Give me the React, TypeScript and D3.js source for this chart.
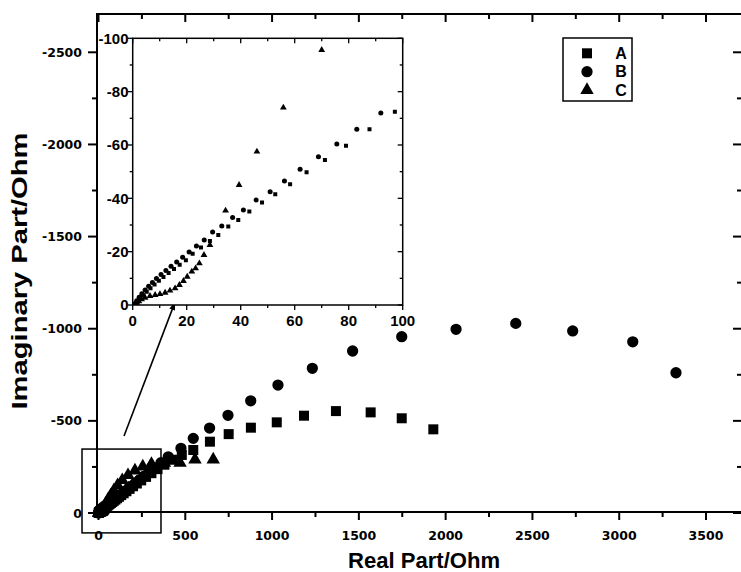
import React from 'react';
import * as d3 from 'd3';

// ---- data (real part, imaginary part) in Ohm ----
const seriesA: [number, number][] = [
  [1.0, -0.3], [1.8, -1.2], [2.8, -2.4], [3.9, -3.7], [5.2, -5.0], [6.6, -6.3], [8.1, -7.7],
  [9.7, -9.1], [11.4, -10.5], [13.3, -12.0], [15.3, -13.5], [17.4, -15.1], [19.7, -16.8],
  [22.2, -19.2], [25.3, -21.6], [28.6, -24], [31.7, -26.25], [35.4, -29.4], [39.1, -31.9],
  [43.2, -35.1], [47.9, -38.4], [52.8, -41.5], [58.3, -45.25], [64.4, -49.75], [71.2, -54.4],
  [79, -59.75], [87.7, -65.9], [97.1, -72.5],
  [107, -80], [118, -88], [131, -97], [145, -107], [161, -118], [179, -131], [199, -145],
  [221, -160], [246, -177], [274, -196], [305, -216], [340, -238], [380, -262], [425, -289],
  [480, -315], [546, -342], [642, -387], [750, -428], [878, -463], [1027, -492], [1184, -528],
  [1368, -553], [1568, -546], [1747, -514], [1929, -454],
];
const seriesB: [number, number][] = [
  [0.8, -0.5], [1.5, -1.6], [2.4, -2.9], [3.4, -4.2], [4.6, -5.6], [5.9, -7.0], [7.3, -8.4],
  [8.8, -9.9], [10.5, -11.4], [12.3, -12.9], [14.2, -14.5], [16.3, -16.1], [18.5, -17.9],
  [20.9, -19.9], [23.6, -22.1], [26.5, -24.4], [29.6, -27.4], [33, -29.6], [37, -32.8],
  [41, -35.6], [45.7, -39.4], [50.9, -42.5], [56.2, -46.5], [62, -50.9], [68.8, -55.6],
  [75.6, -60.4], [83, -65.9], [91.9, -72],
  [101, -79], [112, -87], [124, -96], [138, -106], [153, -117], [170, -130], [189, -144],
  [210, -160], [234, -178], [260, -198], [290, -220], [323, -245], [360, -273], [402, -305],
  [475, -351], [546, -405], [640, -461], [746, -530], [877, -609], [1034, -694], [1232, -785],
  [1464, -879], [1747, -957], [2060, -997], [2404, -1029], [2732, -988], [3078, -929], [3327, -761],
];
const seriesC: [number, number][] = [
  [0.8, -0.3], [1.5, -0.8], [2.3, -1.4], [3.3, -2.1], [4.6, -2.75], [6.4, -3.4], [8.3, -3.75],
  [10.1, -4.1], [12, -4.6], [13.8, -5.4], [15.7, -6.25], [17.3, -7.5], [18.8, -9], [20.2, -10.6],
  [21.9, -12.5], [23.3, -13.75], [24.7, -15.6], [26.4, -18.75], [28.6, -22.5], [34.4, -35.4],
  [39.4, -45], [46, -57.5], [55.8, -74], [70, -95.6], [88, -122], [110, -150], [137, -178],
  [170, -205], [210, -230], [255, -252], [305, -266], [380, -272], [470, -272], [556, -290],
  [661, -290],
];
const mainXTicks = [0, 500, 1000, 1500, 2000, 2500, 3000, 3500];
const mainYTicks = [0, -500, -1000, -1500, -2000, -2500];
const insetXTicks = [0, 20, 40, 60, 80, 100];
const insetYTicks = [0, -20, -40, -60, -80, -100];
const legendLabels = ['A', 'B', 'C'];
const xTitle = 'Real Part/Ohm';
const yTitle = 'Imaginary Part/Ohm';

// ---- layout ----
const W = 741, H = 572;
const frame = { left: 97, right: 742, top: 14, bottom: 512 };
const x = d3.scaleLinear().domain([0, 3500]).range([98.5, 706]);
const y = d3.scaleLinear().domain([0, -2500]).range([513, 52.3]);
const inset = { left: 132.7, right: 402.7, top: 38.3, bottom: 305 };
const xi = d3.scaleLinear().domain([0, 100]).range([inset.left, inset.right]);
const yi = d3.scaleLinear().domain([0, -100]).range([inset.bottom, inset.top]);

const shapes = [d3.symbolSquare, d3.symbolCircle, d3.symbolTriangle];
const mainSizes = [100, 100, 78];
const insetSizes = [16, 20, 20];
const allSeries = [seriesA, seriesB, seriesC];

const tickFont = "'DejaVu Sans', sans-serif";
const labelFont = "'Liberation Sans', Arial, sans-serif";

function range(a: number, b: number, s: number) {
  const out: number[] = [];
  if (s > 0) for (let v = a; v <= b + 1e-9; v += s) out.push(v);
  else for (let v = a; v >= b - 1e-9; v += s) out.push(v);
  return out;
}

export default function App() {
  const xMinor = range(0, 3750, 250).filter((v) => x(v) <= frame.right);
  const yMinor = range(0, -2750, -250).filter((v) => y(v) >= frame.top);
  const ixMinor = range(0, 100, 10);
  const iyMinor = range(0, -100, -10);

  // zoom rectangle & arrow (data coordinates)
  const zoomRect = { x0: -95, x1: 360, y0: 108, y1: -347 };
  const arrow = { x0: 147, y0: -418, x1: 441, y1: -1145 };
  const ax0 = x(arrow.x0), ay0 = y(arrow.y0), ax1 = x(arrow.x1), ay1 = y(arrow.y1);
  const ang = Math.atan2(ay1 - ay0, ax1 - ax0);
  const hl = 8, hw = 3;
  const head = [
    [ax1, ay1],
    [ax1 - hl * Math.cos(ang) + hw * Math.sin(ang), ay1 - hl * Math.sin(ang) - hw * Math.cos(ang)],
    [ax1 - hl * Math.cos(ang) - hw * Math.sin(ang), ay1 - hl * Math.sin(ang) + hw * Math.cos(ang)],
  ];

  return (
    <svg width={W} height={H} style={{ position: 'absolute', left: 0, top: 0, background: '#fff' }}>
      <rect x={0} y={0} width={W} height={H} fill="#fff" />
      <defs>
        <clipPath id="insetClip">
          <rect x={inset.left} y={inset.top} width={inset.right - inset.left} height={inset.bottom - inset.top} />
        </clipPath>
      </defs>

      {/* main frame */}
      <rect x={frame.left} y={frame.top} width={frame.right - frame.left} height={frame.bottom - frame.top}
        fill="none" stroke="#000" strokeWidth={2} />
      {xMinor.map((v) => {
        const major = v % 500 === 0;
        const len = major ? 8 : 5;
        return (
          <g key={'xt' + v}>
            <line x1={x(v)} x2={x(v)} y1={frame.bottom} y2={frame.bottom + len} stroke="#000" strokeWidth={2} />
            <line x1={x(v)} x2={x(v)} y1={frame.top} y2={frame.top + len} stroke="#000" strokeWidth={2} />
          </g>
        );
      })}
      {yMinor.map((v) => {
        const major = v % 500 === 0;
        const len = major ? 9 : 5;
        return (
          <g key={'yt' + v}>
            <line x1={frame.left} x2={frame.left - len} y1={y(v)} y2={y(v)} stroke="#000" strokeWidth={2} />
            <line x1={frame.right} x2={frame.right - len} y1={y(v)} y2={y(v)} stroke="#000" strokeWidth={2} />
          </g>
        );
      })}
      {mainXTicks.map((v) => (
        <text key={'xl' + v} x={x(v)} y={540} textAnchor="middle" fontFamily={tickFont} fontWeight="bold"
          fontSize={12.5}>{String(v)}</text>
      ))}
      {mainYTicks.map((v) => (
        <text key={'yl' + v} x={82} y={y(v)} dy="0.36em" textAnchor="end" fontFamily={tickFont} fontWeight="bold"
          fontSize={12.5}>{String(v)}</text>
      ))}
      <text x={424} y={568} textAnchor="middle" fontFamily={labelFont} fontWeight="bold" fontSize={22}
        textLength={152} lengthAdjust="spacingAndGlyphs">{xTitle}</text>
      <text transform="translate(27,271) rotate(-90)" textAnchor="middle" fontFamily={labelFont}
        fontWeight="bold" fontSize={22} textLength={277} lengthAdjust="spacingAndGlyphs">{yTitle}</text>

      {/* main data */}
      {allSeries.map((s, i) =>
        s.map((d, j) => (
          <path key={`m${i}-${j}`} d={d3.symbol().type(shapes[i]).size(mainSizes[i])() as string}
            transform={`translate(${x(d[0])},${y(d[1])})`} fill="#000" />
        ))
      )}

      {/* zoom box and arrow */}
      <rect x={x(zoomRect.x0)} y={y(zoomRect.y1)} width={x(zoomRect.x1) - x(zoomRect.x0)}
        height={y(zoomRect.y0) - y(zoomRect.y1)} fill="none" stroke="#000" strokeWidth={1.5} />
      <line x1={ax0} y1={ay0} x2={ax1 - 6 * Math.cos(ang)} y2={ay1 - 6 * Math.sin(ang)} stroke="#000" strokeWidth={1.6} />
      <polygon points={head.map((p) => p.join(',')).join(' ')} fill="#000" />

      {/* legend */}
      <rect x={563} y={38} width={69} height={63} fill="#fff" stroke="#000" strokeWidth={1.5} />
      {legendLabels.map((l, i) => (
        <g key={'lg' + l}>
          <path d={d3.symbol().type(shapes[i]).size(mainSizes[i])() as string}
            transform={`translate(587,${53.3 + i * 18.4})`} fill="#000" />
          <text x={621} y={53.3 + i * 18.4} dy="0.36em" textAnchor="middle" fontFamily={labelFont}
            fontWeight="bold" fontSize={16}>{l}</text>
        </g>
      ))}

      {/* inset */}
      <rect x={inset.left} y={inset.top} width={inset.right - inset.left} height={inset.bottom - inset.top}
        fill="#fff" stroke="none" />
      <g clipPath="url(#insetClip)">
        {allSeries.map((s, i) =>
          s.filter((d) => d[0] <= 101 && d[1] >= -101).map((d, j) => (
            <path key={`i${i}-${j}`} d={d3.symbol().type(shapes[i]).size(insetSizes[i])() as string}
              transform={`translate(${xi(d[0])},${yi(d[1])})`} fill="#000" />
          ))
        )}
      </g>
      <rect x={inset.left} y={inset.top} width={inset.right - inset.left} height={inset.bottom - inset.top}
        fill="none" stroke="#000" strokeWidth={1.5} />
      {ixMinor.map((v) => {
        const len = v % 20 === 0 ? 5 : 3;
        return (
          <g key={'ixt' + v}>
            <line x1={xi(v)} x2={xi(v)} y1={inset.bottom} y2={inset.bottom + len} stroke="#000" strokeWidth={1.3} />
            <line x1={xi(v)} x2={xi(v)} y1={inset.top} y2={inset.top + len} stroke="#000" strokeWidth={1.3} />
          </g>
        );
      })}
      {iyMinor.map((v) => {
        const len = v % 20 === 0 ? 5 : 3;
        return (
          <g key={'iyt' + v}>
            <line x1={inset.left} x2={inset.left - len} y1={yi(v)} y2={yi(v)} stroke="#000" strokeWidth={1.3} />
            <line x1={inset.right} x2={inset.right - len} y1={yi(v)} y2={yi(v)} stroke="#000" strokeWidth={1.3} />
          </g>
        );
      })}
      {insetXTicks.map((v) => (
        <text key={'ixl' + v} x={xi(v)} y={326} textAnchor="middle" fontFamily={labelFont} fontWeight="bold"
          fontSize={15}>{String(v)}</text>
      ))}
      {insetYTicks.map((v) => (
        <text key={'iyl' + v} x={128.5} y={yi(v)} dy="0.36em" textAnchor="end" fontFamily={labelFont}
          fontWeight="bold" fontSize={15}>{String(v)}</text>
      ))}
    </svg>
  );
}
